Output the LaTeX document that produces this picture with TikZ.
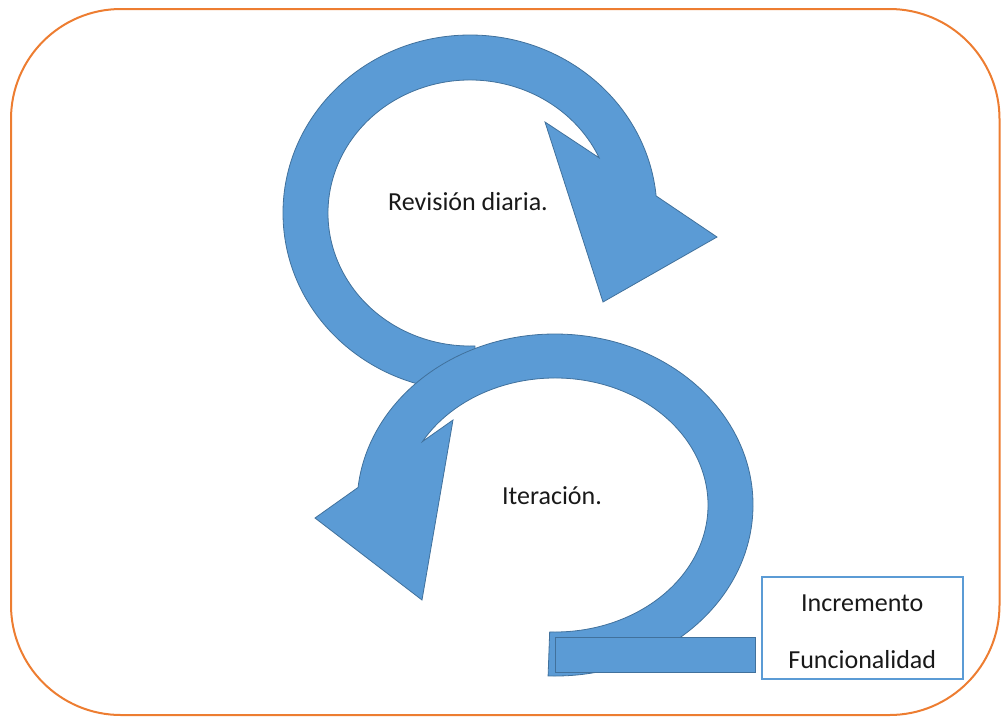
\documentclass[tikz,border=0pt]{standalone}
\usepackage{fontspec}
\setmainfont{Carlito}
\usetikzlibrary{calc}
\definecolor{ringblue}{HTML}{5B9BD5}
\definecolor{ringedge}{HTML}{41719C}
\definecolor{frameorange}{HTML}{ED7D31}
\begin{document}
\begin{tikzpicture}[x=1pt,y=1pt,
  ringarrow/.style={fill=ringblue, draw=ringedge, line width=0.8pt, line join=miter},
  barshape/.style={fill=ringblue, draw=ringedge, line width=1.4pt, inner sep=0pt, anchor=north west},
  notebox/.style={draw=ringblue, line width=1.5pt, fill=white, inner sep=0pt, anchor=north west},
  caption/.style={font=\fontsize{26}{31}\selectfont, text=black!90, inner sep=0pt},
  frame/.style={draw=frameorange, line width=2pt, rounded corners=110pt}
]
\useasboundingbox (0,0) rectangle (1001,-716);

% outer rounded frame
\draw[frame] (11,-9) rectangle (999.5,-715);

% upper circular arrow (clockwise)
\coordinate (c1) at (470,-213);
\coordinate (t1) at (717,-237);
\coordinate (b1) at (603,-302);
\coordinate (a1) at (545,-122);
\path[ringarrow]
  ([shift={(272:187pt and 178pt)}]c1)
  arc[start angle=272, end angle=5.5, x radius=187pt, y radius=178pt]
  -- (t1) -- (b1) -- (a1)
  -- ([shift={(24.5:142pt and 133pt)}]c1)
  arc[start angle=24.5, end angle=272, x radius=142pt, y radius=133pt]
  -- cycle;

% lower circular arrow (counter-clockwise)
\coordinate (c2) at (555,-505);
\coordinate (t2) at (315,-518);
\coordinate (b2) at (422,-600);
\coordinate (a2) at (453,-420);
\path[ringarrow]
  ([shift={(-92:198pt and 171pt)}]c2)
  arc[start angle=-92, end angle=174.1, x radius=198pt, y radius=171pt]
  -- (t2) -- (b2) -- (a2)
  -- ([shift={(150:153pt and 127pt)}]c2)
  arc[start angle=150, end angle=-92, x radius=153pt, y radius=127pt]
  -- cycle;

% base bar leading to the output box
\node[barshape, minimum width=200pt, minimum height=35pt] (bar) at (555,-637) {};

% output box
\node[notebox, minimum width=201pt, minimum height=102pt] (box) at (761,-576) {};
\node[caption] (inc) at ($(box.north)+(0,-27)$) {Incremento};
\node[caption] (fun) at ($(box.north)+(0,-84)$) {Funcionalidad};

% cycle labels
\node[caption] (rev) at (468,-202) {Revisión diaria.};
\node[caption] (ite) at (552,-496) {Iteración.};
\end{tikzpicture}
\end{document}
